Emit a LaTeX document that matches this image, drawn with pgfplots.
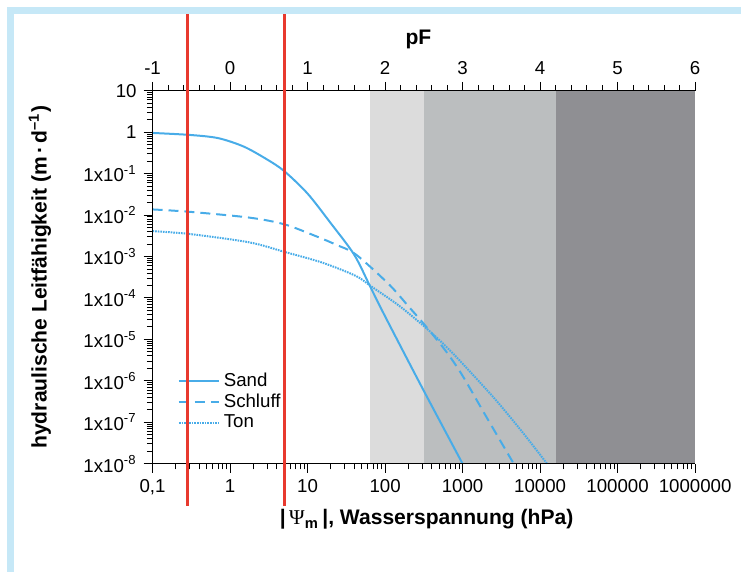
\documentclass[border=0pt]{standalone}
\usepackage{fontspec}
\setmainfont{Liberation Sans}
\newfontfamily\psifont{Liberation Serif}
\usepackage{pgfplots}
\pgfplotsset{compat=1.18}

\definecolor{kurve}{RGB}{72,172,232}
\definecolor{rot}{RGB}{232,57,46}
\definecolor{grauA}{RGB}{220,220,220}
\definecolor{grauB}{RGB}{187,190,191}
\definecolor{grauC}{RGB}{143,143,147}
\definecolor{rahmen}{RGB}{198,232,247}

\pgfplotsset{
  ticklab/.style={font=\fontsize{9.4}{10}\selectfont},
  every tick/.style={black,line width=0.5bp},
  major tick length=4.5bp,
  minor tick length=2.8bp,
}

\begin{document}
\begin{tikzpicture}
\begin{axis}[
  scale only axis, width=272bp, height=187bp,
  xmode=log, ymode=log,
  xmin=0.1, xmax=1e6, ymin=1e-8, ymax=10,
  axis x line*=bottom, axis y line*=left,
  axis line style={line width=0.7bp,-},
  axis on top, clip=false,
  tick align=outside,
  xtick={0.1,1,10,100,1000,10000,100000,1000000},
  xticklabels={{0,1},1,10,100,1000,10000,100000,1000000},
  minor xtick={0.2,0.3,0.4,0.5,0.6,0.7,0.8,0.9,
    2,3,4,5,6,7,8,9,20,30,40,50,60,70,80,90,
    200,300,400,500,600,700,800,900,
    2000,3000,4000,5000,6000,7000,8000,9000,
    20000,30000,40000,50000,60000,70000,80000,90000,
    200000,300000,400000,500000,600000,700000,800000,900000},
  ytick={1e-8,1e-7,1e-6,1e-5,1e-4,1e-3,1e-2,1e-1,1,10},
  yticklabels={1x10\textsuperscript{-8},1x10\textsuperscript{-7},
    1x10\textsuperscript{-6},1x10\textsuperscript{-5},
    1x10\textsuperscript{-4},1x10\textsuperscript{-3},
    1x10\textsuperscript{-2},1x10\textsuperscript{-1},1,10},
  minor ytick={2e-8,3e-8,4e-8,5e-8,6e-8,7e-8,8e-8,9e-8,
    2e-7,3e-7,4e-7,5e-7,6e-7,7e-7,8e-7,9e-7,
    2e-6,3e-6,4e-6,5e-6,6e-6,7e-6,8e-6,9e-6,
    2e-5,3e-5,4e-5,5e-5,6e-5,7e-5,8e-5,9e-5,
    2e-4,3e-4,4e-4,5e-4,6e-4,7e-4,8e-4,9e-4,
    2e-3,3e-3,4e-3,5e-3,6e-3,7e-3,8e-3,9e-3,
    2e-2,3e-2,4e-2,5e-2,6e-2,7e-2,8e-2,9e-2,
    0.2,0.3,0.4,0.5,0.6,0.7,0.8,0.9,
    2,3,4,5,6,7,8,9},
  tick label style={ticklab},
  xlabel={\textbf{|\,{\psifont\mdseries Ψ}\textsubscript{m}\,|, Wasserspannung (hPa)}},
  xlabel style={font=\fontsize{10.6}{12}\selectfont,
    at={(rel axis cs:0.505,-0.1497)}, anchor=center},
  ylabel={\textbf{hydraulische Leitfähigkeit (m\,·\,d\textsuperscript{–1})}},
  ylabel style={font=\fontsize{10.6}{12}\selectfont,
    at={(rel axis cs:-0.2077,0.5)}, anchor=center},
  legend style={draw=none, fill=none, at={(0.035,0.266)}, anchor=north west,
    font=\fontsize{9.4}{10}\selectfont, row sep=-1.7bp},
  legend cell align=left,
  legend image code/.code={\draw[#1] (0bp,0bp) -- (15bp,0bp);
    \path (0bp,0bp) -- (20bp,0bp);},
]
% Bereiche
\addplot[draw=none, fill=grauA, forget plot] coordinates {(63.1,1e-8) (316.2,1e-8) (316.2,10) (63.1,10)} -- cycle;
\addplot[draw=none, fill=grauB, forget plot] coordinates {(316.2,1e-8) (15849,1e-8) (15849,10) (316.2,10)} -- cycle;
\addplot[draw=none, fill=grauC, forget plot] coordinates {(15849,1e-8) (1e6,1e-8) (1e6,10) (15849,10)} -- cycle;

\addplot[kurve, line width=1bp, smooth] coordinates {
  (0.1,0.96) (0.3,0.86) (0.7,0.72) (1.5,0.45) (3,0.22) (5,0.115)
  (10,0.033) (20,0.0063) (40,1.1e-3) (65,1.8e-4) (100,3.6e-5)
  (300,6.9e-7) (1000,1e-8)
};
\addlegendentry{Sand}
\addplot[kurve, line width=1bp, dash pattern=on 5bp off 3bp, smooth] coordinates {
  (0.1,0.0137) (0.3,0.012) (1.77,0.0087) (5,0.006) (12.8,0.0031)
  (23,0.00195) (42,1.12e-3) (112,2.14e-4) (200,6.3e-5) (331,2.14e-5)
  (600,5.4e-6) (980,1.41e-6) (2000,1.41e-7) (4570,1e-8)
};
\addlegendentry{Schluff}
\addplot[kurve, line width=1bp, dash pattern=on 0.8bp off 0.5bp, smooth] coordinates {
  (0.1,0.0041) (0.3,0.0035) (1.77,0.0022) (5,0.0013) (15.6,7.1e-4)
  (42,3.4e-4) (65,1.95e-4) (150,6.6e-5) (331,1.95e-5) (600,7.0e-6)
  (1000,2.6e-6) (2630,3.6e-7) (6000,5.6e-8) (12300,1e-8)
};
\addlegendentry{Ton}
\end{axis}

\begin{axis}[
  scale only axis, width=272bp, height=187bp,
  xmin=-1, xmax=6, ymin=0, ymax=1,
  axis x line*=top, axis y line=none,
  axis line style={line width=0.7bp,-},
  clip=false,
  tick align=outside,
  xtick={-1,0,1,2,3,4,5,6},
  xticklabels={-1,0,1,2,3,4,5,6},
  minor x tick num=4,
  tick label style={ticklab},
  xlabel={\textbf{pF}},
  xlabel style={font=\fontsize{10.6}{12}\selectfont,
    at={(rel axis cs:0.49,1.1364)}, anchor=center},
]
% Grenzen der Bereiche (Linien)
\addplot[rot, line width=1.5bp, forget plot] coordinates {(-0.553,1.214) (-0.553,-0.112)};
\addplot[rot, line width=1.5bp, forget plot] coordinates {(0.699,1.214) (0.699,-0.112)};
% Rahmen
\fill[rahmen] (rel axis cs:-0.2684,1.2246) rectangle (rel axis cs:1.0846,1.2059);
\fill[rahmen] (rel axis cs:-0.2684,1.2246) rectangle (rel axis cs:-0.2555,-0.2914);
\path (rel axis cs:-0.28125,-0.29144) rectangle (rel axis cs:1.08456,1.2433);
\end{axis}
\end{tikzpicture}
\end{document}
